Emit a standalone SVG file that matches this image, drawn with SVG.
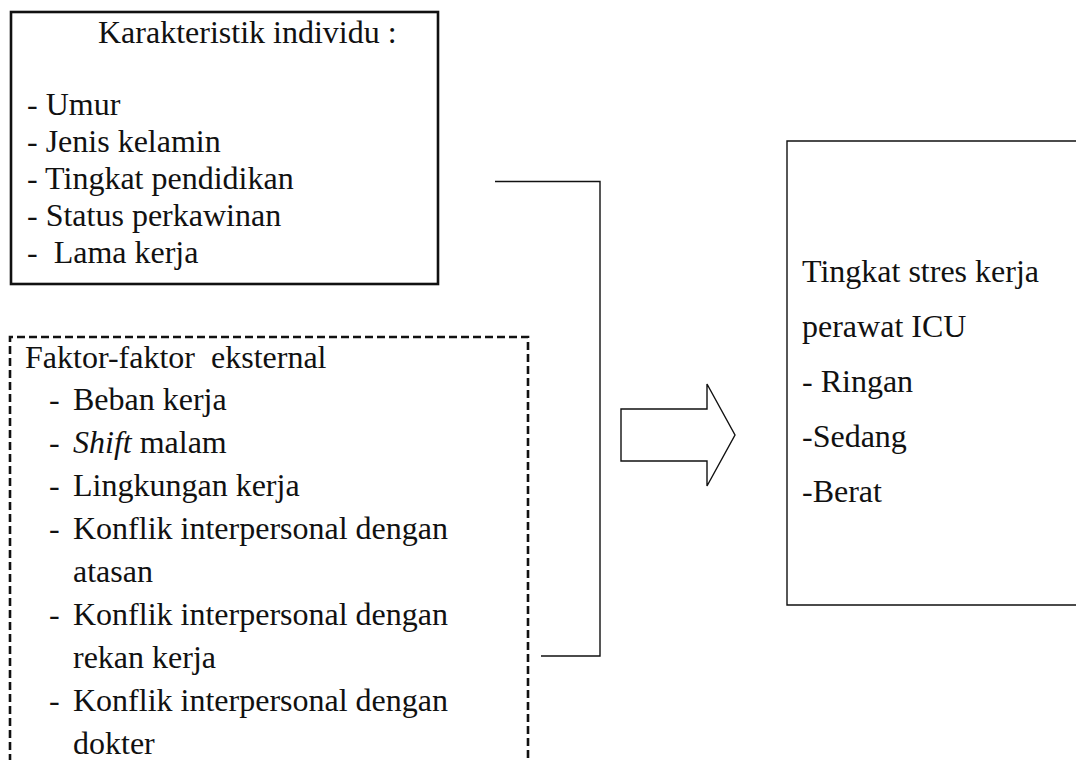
<svg xmlns="http://www.w3.org/2000/svg" width="1076" height="760" viewBox="0 0 1076 760">
<style>
text{font-family:"Liberation Serif","Times New Roman",serif;font-size:32px;fill:#111;white-space:pre}
.box{fill:none;stroke:#111;stroke-width:2.6}
.dash{fill:none;stroke:#111;stroke-width:2.6;stroke-dasharray:8 4}
.thin{fill:none;stroke:#111;stroke-width:1.4}
</style>
<rect width="1076" height="760" fill="#fff"/>
<g id="individu">
<rect class="box" x="11" y="12" width="427" height="272"/>
<text x="98" y="43">Karakteristik individu :</text>
<text x="27" y="115">- Umur</text>
<text x="27" y="152">- Jenis kelamin</text>
<text x="27" y="189">- Tingkat pendidikan</text>
<text x="27" y="226">- Status perkawinan</text>
<text x="27" y="263">-  Lama kerja</text>
</g>
<g id="eksternal">
<path class="dash" d="M10,762 V337 H528 V762"/>
<text x="25" y="368">Faktor-faktor  eksternal</text>
<text x="49" y="410">-</text><text x="73" y="410">Beban kerja</text>
<text x="49" y="453">-</text><text x="73" y="453"><tspan font-style="italic">Shift</tspan> malam</text>
<text x="49" y="496">-</text><text x="73" y="496">Lingkungan kerja</text>
<text x="49" y="539">-</text><text x="73" y="539">Konflik interpersonal dengan</text>
<text x="73" y="582">atasan</text>
<text x="49" y="625">-</text><text x="73" y="625">Konflik interpersonal dengan</text>
<text x="73" y="668">rekan kerja</text>
<text x="49" y="711">-</text><text x="73" y="711">Konflik interpersonal dengan</text>
<text x="73" y="754">dokter</text>
</g>
<g id="connectors">
<path class="thin" d="M495,181.5 H600 V656 H541"/>
<path class="thin" d="M621,409 H707 V384 L735,435 L707,486 V461 H621 Z"/>
</g>
<g id="stres">
<path class="thin" d="M1078,141 H787 V605 H1078"/>
<text x="802" y="282">Tingkat stres kerja</text>
<text x="802" y="337">perawat ICU</text>
<text x="802" y="392">- Ringan</text>
<text x="802" y="447">-Sedang</text>
<text x="802" y="502">-Berat</text>
</g>
</svg>
